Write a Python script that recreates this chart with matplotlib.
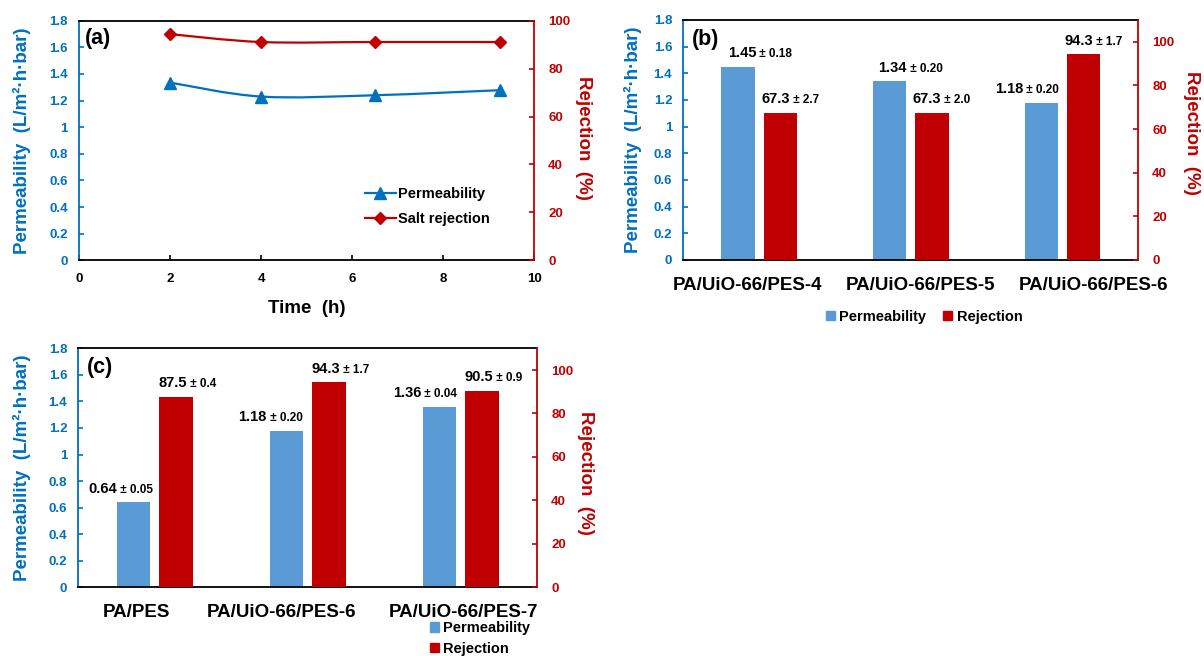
import numpy as np
import matplotlib
matplotlib.use("Agg")
from matplotlib import pyplot as plt
from matplotlib.path import Path
from matplotlib.patches import PathPatch, Patch
from matplotlib.lines import Line2D
from matplotlib.ticker import FuncFormatter, MultipleLocator

plt.rcParams["font.family"] = ["Liberation Sans", "DejaVu Sans"]
plt.rcParams["font.weight"] = "bold"

# ----------------------
# Data
# ----------------------

# (a) stability over time
time_h = [2.0, 4.0, 6.5, 9.25]
perm_time = [1.335, 1.23, 1.24, 1.278]
salt_rej_time = [94.4, 91.1, 91.1, 91.1]

# (b) effect of support
b_names = ["PA/UiO-66/PES-4", "PA/UiO-66/PES-5", "PA/UiO-66/PES-6"]
b_perm = [1.45, 1.34, 1.18]
b_perm_err = ["0.18", "0.20", "0.20"]
b_rej = [67.3, 67.3, 94.3]
b_rej_err = ["2.7", "2.0", "1.7"]

# (c) comparison with bare PES
c_names = ["PA/PES", "PA/UiO-66/PES-6", "PA/UiO-66/PES-7"]
c_perm = [0.64, 1.18, 1.36]
c_perm_err = ["0.05", "0.20", "0.04"]
c_rej = [87.5, 94.3, 90.5]
c_rej_err = ["0.4", "1.7", "0.9"]

# label x-shifts (category units) for value annotations and category names
b_perm_dx = [0.0, -0.01, -0.24]
b_rej_dx = [0.22, 0.22, 0.22]
b_name_dx = [-0.08, 0.065, 0.205]
c_perm_dx = [-0.23, -0.25, -0.24]
c_rej_dx = [0.23, 0.23, 0.23]
c_name_dx = [-0.12, -0.17, 0.02]

blue = "#0070C0"
red = "#C00000"
bar_blue = "#5B9BD5"
bar_red = "#C00000"

W, H = 1204, 656
fig = plt.figure(figsize=(W / 100, H / 100), dpi=100)


def px_axes(left, right, top, bottom):
    return fig.add_axes([left / W, 1 - bottom / H, (right - left) / W, (bottom - top) / H])


def gfmt(v, pos):
    return "{:g}".format(round(v, 2))


def style_twin(ax, ax2, ylab_x, y2lab_xy):
    for s in ["top", "bottom"]:
        ax.spines[s].set_color("black")
        ax.spines[s].set_linewidth(1.3)
    ax.spines["left"].set_color(blue)
    ax.spines["left"].set_linewidth(1.3)
    ax.spines["right"].set_visible(False)
    for s in ["left", "top", "bottom"]:
        ax2.spines[s].set_visible(False)
    ax2.spines["right"].set_color(red)
    ax2.spines["right"].set_linewidth(1.3)

    ax.set_ylim(0, 1.8)
    ax.yaxis.set_major_locator(MultipleLocator(0.2))
    ax.yaxis.set_major_formatter(FuncFormatter(gfmt))
    ax.tick_params(axis="y", direction="in", length=3.5, width=1.2, color=blue,
                   labelcolor=blue, labelsize=9.5, pad=8)
    ax2.tick_params(axis="y", direction="in", length=3.5, width=1.2, color=red,
                    labelcolor=red, labelsize=9.5, pad=10)
    ax.set_ylabel("Permeability  (L/m²·h·bar)", color=blue, fontsize=13.5,
                  fontweight="bold", va="center")
    ax.yaxis.set_label_coords(ylab_x, 0.5)
    ax2.set_ylabel("Rejection  (%)", color=red, fontsize=13.5, fontweight="bold",
                   rotation=270, va="center")
    ax2.yaxis.set_label_coords(*y2lab_xy)


def smooth_path(xs, ys):
    # Catmull-Rom style cubic segments, like a spreadsheet "smoothed line"
    pts = np.column_stack([xs, ys])
    n = len(pts)
    verts = [pts[0]]
    codes = [Path.MOVETO]
    for i in range(n - 1):
        p0 = pts[max(i - 1, 0)]
        p1 = pts[i]
        p2 = pts[i + 1]
        p3 = pts[min(i + 2, n - 1)]
        verts += [p1 + (p2 - p0) / 6.0, p2 - (p3 - p1) / 6.0, p2]
        codes += [Path.CURVE4] * 3
    return Path(verts, codes)


def value_label(ax, x, y, main, err):
    ax.annotate(main, xy=(x, y), xytext=(-2, 7), textcoords="offset points",
                ha="right", va="baseline", fontsize=10.5, fontweight="bold")
    ax.annotate(" ± " + err, xy=(x, y), xytext=(-2, 7), textcoords="offset points",
                ha="left", va="baseline", fontsize=8.5, fontweight="bold")


def bar_panel(ax, names, name_dx, perm, perm_err, rej, rej_err, perm_dx, rej_dx, tag):
    ax2 = ax.twinx()
    x = np.arange(len(names))
    bw = 0.22
    ax.bar(x - 0.14, perm, width=bw, color=bar_blue, zorder=2)
    ax2.bar(x + 0.14, rej, width=bw, color=bar_red, zorder=2)
    ax.set_xlim(-0.5, len(names) - 0.5)
    ax2.set_ylim(0, 110)
    ax2.set_yticks(range(0, 101, 20))
    ax.set_xticks(x + np.array(name_dx))
    ax.set_xticklabels(names, fontsize=13.5, fontweight="bold")
    ax.tick_params(axis="x", length=0, pad=12)
    for i in range(len(names)):
        value_label(ax, x[i] + perm_dx[i], perm[i], "{:.2f}".format(perm[i]), perm_err[i])
        value_label(ax2, x[i] + rej_dx[i], rej[i], "{:.1f}".format(rej[i]), rej_err[i])
    ax.text(0.018, 0.92, tag, transform=ax.transAxes, fontsize=15.5, fontweight="bold",
            ha="left", va="center")
    return ax2


# ---------------------------------
# (a) permeability and salt rejection vs time
# ---------------------------------
axa = px_axes(79, 534.3, 20.7, 260.3)
axa2 = axa.twinx()
style_twin(axa, axa2, -0.125, (1.108, 0.51))

axa.add_patch(PathPatch(smooth_path(time_h, perm_time), fill=False, edgecolor=blue, lw=1.6))
axa.plot(time_h, perm_time, ls="none", marker="^", ms=8.5, color=blue)
axa2.add_patch(PathPatch(smooth_path(time_h, salt_rej_time), fill=False, edgecolor=red, lw=1.6))
axa2.plot(time_h, salt_rej_time, ls="none", marker="D", ms=6, color=red)

axa.set_xlim(0, 10)
axa.xaxis.set_major_locator(MultipleLocator(2))
axa.tick_params(axis="x", direction="in", length=3.5, width=1.2, labelsize=9.5, pad=9)
axa.set_xlabel("Time  (h)", fontsize=13.5, fontweight="bold", labelpad=11)
axa2.set_ylim(0, 100)
axa2.set_yticks(range(0, 101, 20))
axa.text(0.013, 0.925, "(a)", transform=axa.transAxes, fontsize=15.5, fontweight="bold",
         ha="left", va="center")

a_handles = [
    Line2D([], [], color=blue, lw=1.6, marker="^", ms=8.5),
    Line2D([], [], color=red, lw=1.6, marker="D", ms=6),
]
axa.legend(a_handles, ["Permeability", "Salt rejection"], loc="center left",
           bbox_to_anchor=(365 / W, 1 - 206.3 / H), bbox_transform=fig.transFigure,
           frameon=False, prop={"weight": "bold", "size": 10.5}, handlelength=2.1,
           handletextpad=0.15, labelspacing=0.75, borderpad=0, borderaxespad=0)

# ---------------------------------
# (b)
# ---------------------------------
axb = px_axes(683.3, 1138.3, 20, 260)
axb2 = bar_panel(axb, b_names, b_name_dx, b_perm, b_perm_err, b_rej, b_rej_err,
                 b_perm_dx, b_rej_dx, "(b)")
style_twin(axb, axb2, -0.111, (1.116, 0.53))
axb.legend([Patch(color=bar_blue), Patch(color=bar_red)], ["Permeability", "Rejection"],
           loc="center", bbox_to_anchor=(924 / W, 1 - 316.7 / H), bbox_transform=fig.transFigure,
           ncol=2, frameon=False, prop={"weight": "bold", "size": 10.5}, handlelength=0.6,
           handleheight=0.6, handletextpad=0.3, columnspacing=1.2, borderpad=0, borderaxespad=0)

# ---------------------------------
# (c)
# ---------------------------------
axc = px_axes(78.3, 537.3, 348.3, 587.3)
axc2 = bar_panel(axc, c_names, c_name_dx, c_perm, c_perm_err, c_rej, c_rej_err,
                 c_perm_dx, c_rej_dx, "(c)")
style_twin(axc, axc2, -0.123, (1.104, 0.48))
axc.legend([Patch(color=bar_blue), Patch(color=bar_red)], ["Permeability", "Rejection"],
           loc="center left", bbox_to_anchor=(430 / W, 1 - 638.3 / H), bbox_transform=fig.transFigure,
           frameon=False, prop={"weight": "bold", "size": 10.5}, handlelength=0.6,
           handleheight=0.6, handletextpad=0.3, labelspacing=0.45, borderpad=0, borderaxespad=0)

fig.savefig("out.png", dpi=100)
